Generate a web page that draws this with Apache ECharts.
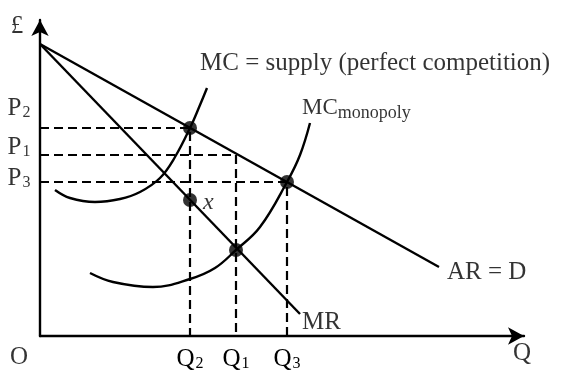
<!DOCTYPE html>
<html>
<head>
<meta charset="utf-8">
<script src="https://cdn.jsdelivr.net/npm/echarts@6/dist/echarts.min.js"></script>
<style>
  html, body { margin: 0; padding: 0; background: #fff; }
  #chart { width: 572px; height: 372px; }
</style>
</head>
<body>
<div id="chart"></div>
<script>
// quantity on x, price on y
const demand = [[0, 29.2], [39.9, 6.9]];            // AR = D
const marginalRevenue = [[0, 29.2], [26, 2.2]];     // MR
const mcSupply = [[1.5, 14.6], [3, 13.8], [5.5, 13.4], [8, 13.7], [10, 14.4], [12, 15.8],
  [13.5, 17.9], [15, 20.8], [16, 23.1], [16.7, 24.8]];
const mcMonopoly = [[5, 6.3], [7.3, 5.4], [11.3, 4.9], [15, 5.7], [17.5, 6.8], [19.6, 8.6],
  [22, 10.9], [24.7, 15.4], [26, 18.1], [27, 21.3]];

const qValues = [15, 19.6, 24.7];     // Q2, Q1, Q3
const qSubs = ['2', '1', '3'];
const pValues = [20.8, 18.1, 15.4];   // P2, P1, P3
const pSubs = ['2', '1', '3'];
const dots = [[15, 20.8], [15, 13.6], [19.6, 8.6], [24.7, 15.4]];

const FONT = 'Liberation Serif';
const black = '#000';

const chart = echarts.init(document.getElementById('chart'));

const plainLine = (name, data, smooth) => ({
  name, type: 'line', data, smooth: smooth || false, symbol: 'none', silent: true,
  lineStyle: { color: black, width: 2.4 }
});

// dashed guides from each price tick across and down to each quantity tick
const guides = [];
qValues.forEach((q, i) => {
  const p = pValues[i];
  guides.push({
    type: 'line', symbol: 'none', silent: true,
    data: [[0, p], [q, p], [q, 0]],
    lineStyle: { color: black, width: 2.2, type: [9, 5] }
  });
});

const subText = (main, sub) => `{m|${main}}{s|${sub}}`;
const richSub = {
  m: { fontFamily: FONT, fontSize: 25, color: black },
  s: { fontFamily: FONT, fontSize: 16, color: black, verticalAlign: 'bottom', padding: [9, 0, 0, 1] }
};

// price labels sit a little above their guide lines
const pOffsets = [-20, -8, -4];

const notes = [
  { value: [-2.3, 31.0], text: '£', align: 'center' },
  { value: [-2.1, -2.1], text: 'O', align: 'center' },
  { value: [48.2, -1.7], text: 'Q', align: 'center' },
  { value: [16, 27.3], text: 'MC = supply (perfect competition)', align: 'left' },
  { value: [26.2, 22.8], text: '{c|MC}{t|monopoly}', align: 'left' },
  { value: [40.7, 6.4], text: 'AR = D', align: 'left' },
  { value: [26.2, 1.4], text: 'MR', align: 'left' },
  { value: [16.3, 13.3], text: '{i|x}', align: 'left' }
];

const option = {
  animation: false,
  grid: { left: 40, right: 48, top: 20, bottom: 36 },
  xAxis: {
    type: 'value', min: 0, max: 48.4,
    splitLine: { show: false },
    axisTick: { show: false },
    axisLine: { show: true, symbol: ['none', 'arrow'], symbolSize: [13, 16], lineStyle: { color: black, width: 2.4 } },
    axisLabel: {
      customValues: qValues,
      margin: 11,
      formatter: v => subText('Q', qSubs[qValues.indexOf(v)]),
      rich: richSub
    }
  },
  yAxis: {
    type: 'value', min: 0, max: 31.6,
    splitLine: { show: false },
    axisTick: { show: false },
    axisLabel: { show: false },
    axisLine: { show: true, symbol: ['none', 'arrow'], symbolSize: [13, 16], lineStyle: { color: black, width: 2.4 } }
  },
  series: [
    plainLine('AR = D', demand),
    plainLine('MR', marginalRevenue),
    plainLine('MC supply', mcSupply, 0.4),
    plainLine('MC monopoly', mcMonopoly, 0.4),
    ...guides,
    {
      type: 'scatter', silent: true, symbolSize: 14, data: dots,
      itemStyle: { color: black }, z: 5
    },
    {
      type: 'scatter', silent: true, symbolSize: 0, clip: false,
      data: pValues.map((p, i) => ({
        value: [-2.1, p],
        label: { offset: [0, pOffsets[i]] },
        name: subText('P', pSubs[i])
      })),
      label: {
        show: true, position: 'inside', formatter: d => d.name, rich: richSub
      }
    },
    {
      type: 'scatter', silent: true, symbolSize: 0, clip: false,
      data: notes.map(n => ({ value: n.value, name: n.text, label: { align: n.align } })),
      label: {
        show: true, position: 'inside', formatter: d => d.name,
        fontFamily: FONT, fontSize: 25, color: black,
        rich: {
          c: { fontFamily: FONT, fontSize: 23, color: black },
          t: { fontFamily: FONT, fontSize: 18, color: black, verticalAlign: 'bottom', padding: [10, 0, 0, 0] },
          i: { fontFamily: FONT, fontSize: 24, color: black, fontStyle: 'italic' }
        }
      }
    }
  ]
};

chart.setOption(option);
</script>
</body>
</html>
